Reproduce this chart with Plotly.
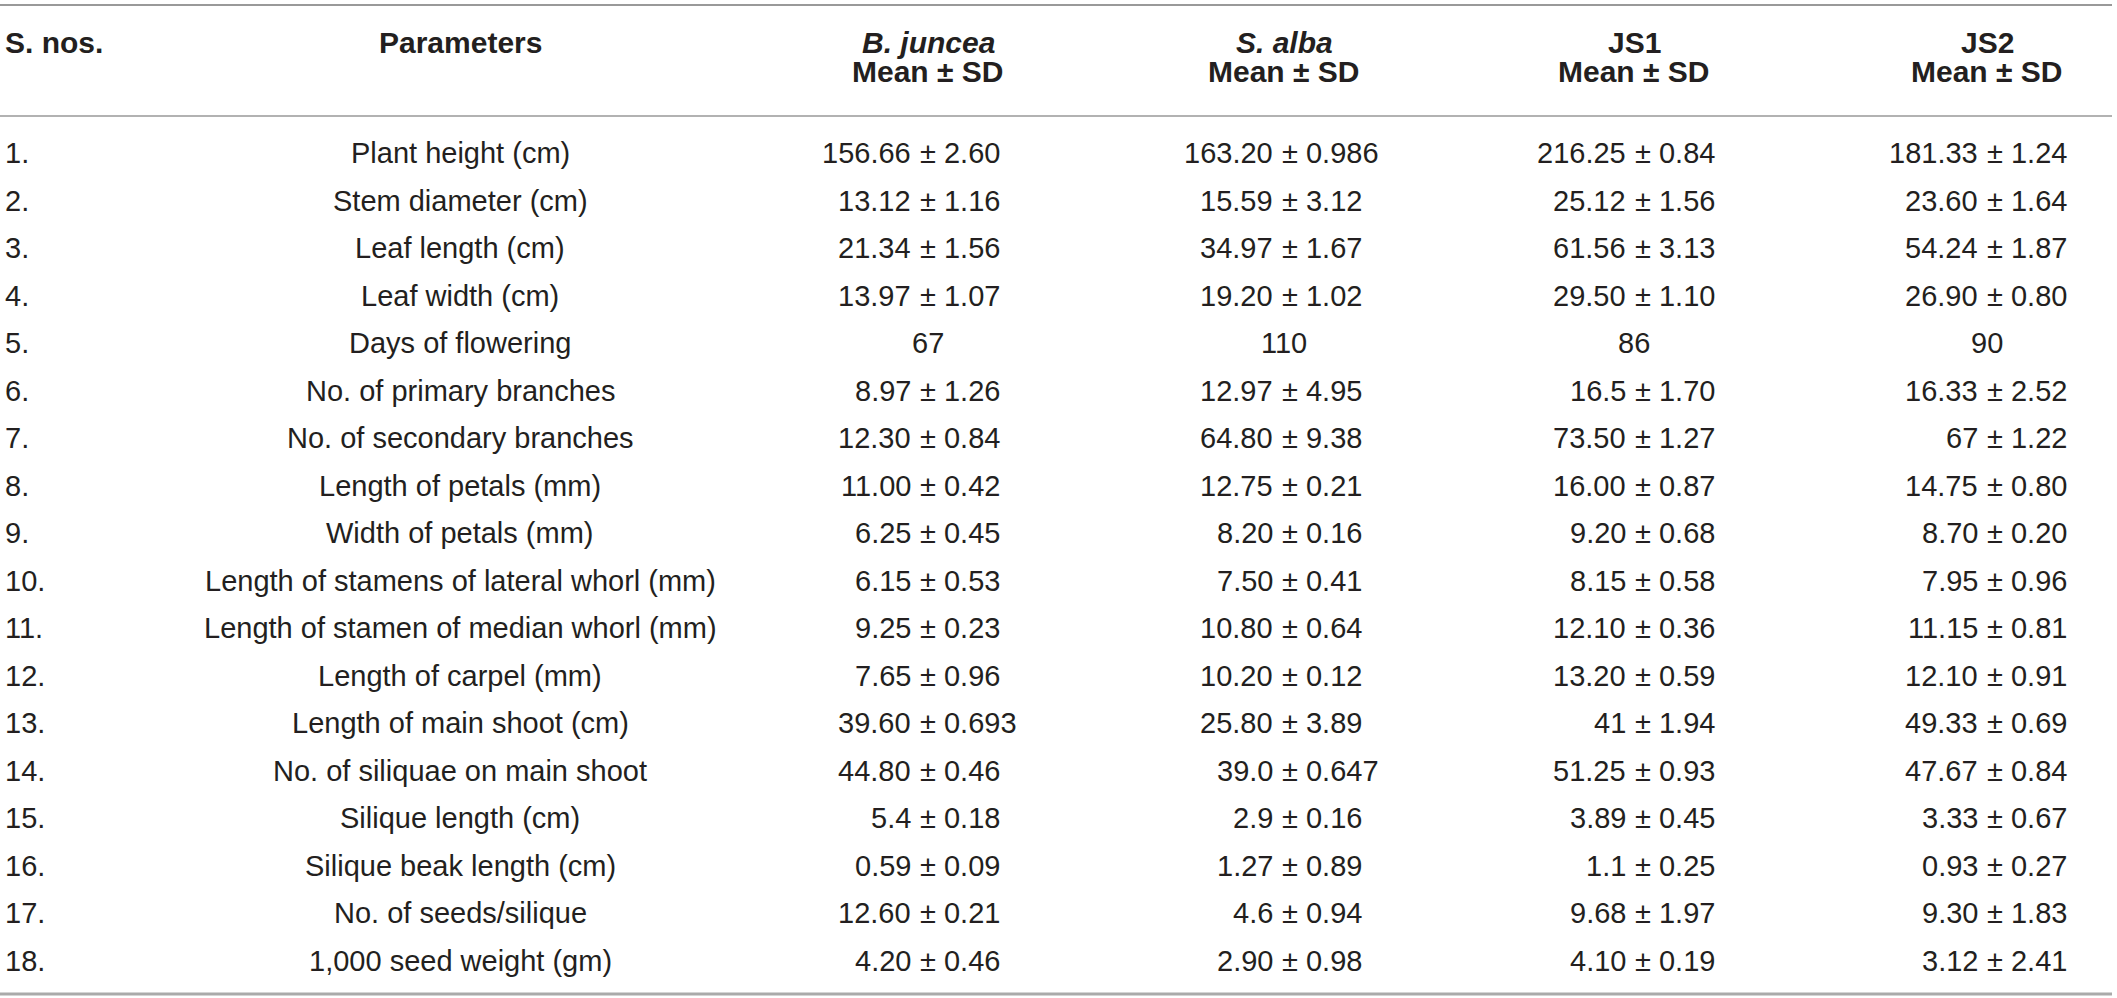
import plotly.graph_objects as go

# table content
s_nos = [f"{i}." for i in range(1, 19)]
parameters = [
    "Plant height (cm)", "Stem diameter (cm)", "Leaf length (cm)", "Leaf width (cm)",
    "Days of flowering", "No. of primary branches", "No. of secondary branches",
    "Length of petals (mm)", "Width of petals (mm)",
    "Length of stamens of lateral whorl (mm)", "Length of stamen of median whorl (mm)",
    "Length of carpel (mm)", "Length of main shoot (cm)", "No. of siliquae on main shoot",
    "Silique length (cm)", "Silique beak length (cm)", "No. of seeds/silique",
    "1,000 seed weight (gm)",
]
headers = ["<i>B. juncea</i>", "<i>S. alba</i>", "JS1", "JS2"]

bj_mean = ["156.66", "13.12", "21.34", "13.97", "67", "8.97", "12.30", "11.00", "6.25",
           "6.15", "9.25", "7.65", "39.60", "44.80", "5.4", "0.59", "12.60", "4.20"]
bj_sd = ["2.60", "1.16", "1.56", "1.07", None, "1.26", "0.84", "0.42", "0.45",
         "0.53", "0.23", "0.96", "0.693", "0.46", "0.18", "0.09", "0.21", "0.46"]
sa_mean = ["163.20", "15.59", "34.97", "19.20", "110", "12.97", "64.80", "12.75", "8.20",
           "7.50", "10.80", "10.20", "25.80", "39.0", "2.9", "1.27", "4.6", "2.90"]
sa_sd = ["0.986", "3.12", "1.67", "1.02", None, "4.95", "9.38", "0.21", "0.16",
         "0.41", "0.64", "0.12", "3.89", "0.647", "0.16", "0.89", "0.94", "0.98"]
js1_mean = ["216.25", "25.12", "61.56", "29.50", "86", "16.5", "73.50", "16.00", "9.20",
            "8.15", "12.10", "13.20", "41", "51.25", "3.89", "1.1", "9.68", "4.10"]
js1_sd = ["0.84", "1.56", "3.13", "1.10", None, "1.70", "1.27", "0.87", "0.68",
          "0.58", "0.36", "0.59", "1.94", "0.93", "0.45", "0.25", "1.97", "0.19"]
js2_mean = ["181.33", "23.60", "54.24", "26.90", "90", "16.33", "67", "14.75", "8.70",
            "7.95", "11.15", "12.10", "49.33", "47.67", "3.33", "0.93", "9.30", "3.12"]
js2_sd = ["1.24", "1.64", "1.87", "0.80", None, "2.52", "1.22", "0.80", "0.20",
          "0.96", "0.81", "0.91", "0.69", "0.84", "0.67", "0.27", "1.83", "2.41"]

W, H = 2117, 998
FONT = "Liberation Sans, Arial, Helvetica, sans-serif"
TXT = "#231f20"
FS = 29

# column layout (page px); row centres: 153 + (row-1)*47.5
col_center = [928, 1284, 1634, 1987]
col_pm = [928, 1290, 1643, 1995]
row0, pitch = 153, 47.5


def ry(page_y):
    return 1 + (page_y - row0) / pitch


rows = list(range(1, 19))
fig = go.Figure()
# invisible trace so the axes exist
fig.add_trace(go.Scatter(x=[0], y=[1], mode="markers", marker_opacity=0,
                         hoverinfo="skip"))

ann = []


def txt(x, y, s, anchor, size=FS, bold=False):
    ann.append(dict(x=x, y=y, xref="x", yref="y", text=f"<b>{s}</b>" if bold else s,
                    showarrow=False, xanchor=anchor, yanchor="middle",
                    borderpad=0, borderwidth=0,
                    font=dict(family=FONT, size=size, color=TXT)))


for r, n, p in zip(rows, s_nos, parameters):
    txt(5, r, n, "left")
    txt(460, r, p, "center")

pm_half = 0.584 * FS / 2
gap = 0.278 * FS
for c, (means, sds) in enumerate([(bj_mean, bj_sd), (sa_mean, sa_sd),
                                  (js1_mean, js1_sd), (js2_mean, js2_sd)]):
    p = col_pm[c]
    for r, m, s in zip(rows, means, sds):
        if s is None:
            txt(col_center[c], r, m, "center")
        else:
            txt(p - pm_half - gap, r, m, "right")
            txt(p - pm_half, r, f"± {s}", "left")

# header
h1, h2 = ry(42), ry(71)
txt(5, h1, "S. nos.", "left", 30, True)
txt(460, h1, "Parameters", "center", 30, True)
for c, h in enumerate(headers):
    txt(col_center[c], h1, h, "center", 30, True)
    txt(col_center[c], h2, "Mean ± SD", "center", 30, True)

shapes = [
    dict(type="line", xref="x", yref="y", x0=0, x1=2112, y0=ry(5), y1=ry(5),
         line=dict(color="#999999", width=2)),
    dict(type="line", xref="x", yref="y", x0=0, x1=2112, y0=ry(116), y1=ry(116),
         line=dict(color="#999999", width=1.5)),
    dict(type="line", xref="x", yref="y", x0=0, x1=2112, y0=ry(994), y1=ry(994),
         line=dict(color="#aaaaaa", width=3)),
]

fig.update_layout(
    width=W, height=H, margin=dict(l=0, r=0, t=0, b=0),
    paper_bgcolor="white", plot_bgcolor="white", showlegend=False,
    xaxis=dict(range=[0, W], visible=False, fixedrange=True),
    yaxis=dict(range=[ry(H), ry(0)], visible=False, fixedrange=True),
    annotations=ann, shapes=shapes,
)

fig.write_html("out.html", config={"displayModeBar": False},
               post_script="document.body.style.margin='0';")
